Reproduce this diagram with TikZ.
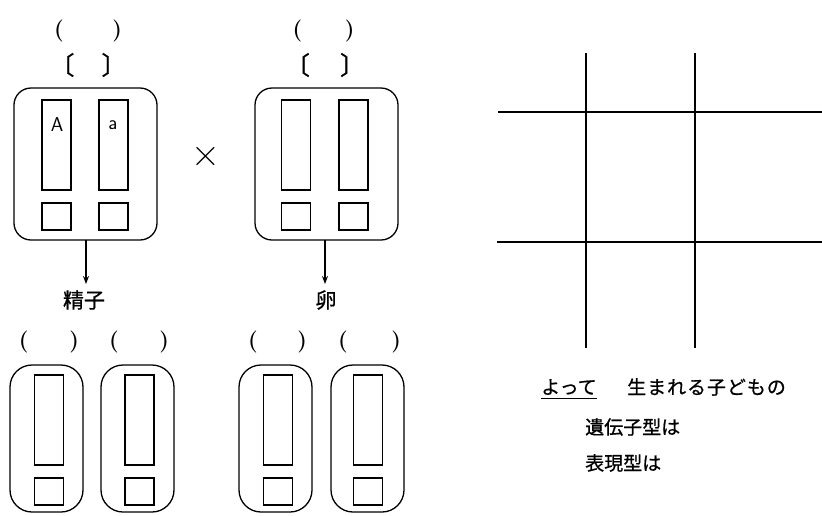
\documentclass[tikz,border=0pt]{standalone}
\usepackage{fontspec}
\newfontfamily\jp[FakeBold=0.8]{Noto Sans CJK JP}
\usetikzlibrary{arrows.meta}
\begin{document}
\begin{tikzpicture}[x=1pt,y=-1pt,
  ln/.style={line width=1.3pt},
  parent/.style={ln,draw,rounded corners=17pt,minimum width=143pt,minimum height=152pt,inner sep=0pt,outer sep=0pt},
  gamete/.style={ln,draw,rounded corners=22pt,minimum width=73pt,minimum height=147pt,inner sep=0pt,outer sep=0pt},
  chrom/.style={ln,draw,minimum width=29pt,minimum height=90pt,inner sep=0pt,outer sep=0pt},
  gene/.style={ln,draw,minimum width=29pt,minimum height=27pt,inner sep=0pt,outer sep=0pt},
  paren/.style={inner sep=0pt,font=\bfseries\fontsize{22}{22}\selectfont},
  brk/.style={inner sep=0pt,font=\jp\fontsize{25}{25}\selectfont},
  jtxt/.style={inner sep=0pt,font=\jp\fontsize{19}{19}\selectfont},
  allele/.style={inner sep=0pt,font=\sffamily\fontsize{20}{20}\selectfont},
  arr/.style={ln,-{Stealth[length=8pt,width=6pt]}},
  grid/.style={line width=1.2pt}
]
\useasboundingbox (0,0) rectangle (822,515);
% ---- parents ----
\node[parent] (p1) at (85.5,164) {};
\node[chrom] (p1c1) at (56.5,145) {};
\node[chrom] (p1c2) at (113.5,145) {};
\node[gene] (p1g1) at (56.5,216.5) {};
\node[gene] (p1g2) at (113.5,216.5) {};
\node[allele] (A) at (57,125) {A};
\node[allele] (a) at (113,125) {a};
\node[paren] (p1par) at (88,31) {\makebox[68pt]{(\hfill)}};
\node[brk] (p1brk) at (88,65) {\makebox[77pt]{〔\hfill〕}};

\node[parent] (p2) at (326.5,164) {};
\node[chrom] (p2c1) at (296,145) {};
\node[chrom] (p2c2) at (353.5,145) {};
\node[gene] (p2g1) at (296,216.5) {};
\node[gene] (p2g2) at (353.5,216.5) {};
\node[paren] (p2par) at (323.5,31) {\makebox[62pt]{(\hfill)}};
\node[brk] (p2brk) at (325,65) {\makebox[80pt]{〔\hfill〕}};

\node[inner sep=0pt,font=\fontsize{40}{40}\selectfont] (cross) at (206,157) {×};

% ---- arrows ----
\coordinate (e1) at (86,284);
\coordinate (e2) at (325,284);
\draw[arr] (p1.south -| e1) -- (e1);
\draw[arr] (p2.south -| e2) -- (e2);
\node[jtxt,font=\jp\fontsize{21}{21}\selectfont] (sperm) at (84,300) {精子};
\node[jtxt,font=\jp\fontsize{21}{21}\selectfont] (egg) at (326,300) {卵};

% ---- gametes ----
\foreach \n/\cx/\ix/\px/\pw in {1/46.5/49/49/60, 2/137.5/139.5/139/60, 3/275.5/278/277.5/59, 4/367.5/368/369.5/63}{
  \node[gamete] (g\n) at (\cx,438.5) {};
  \node[chrom,minimum height=90pt] (g\n c) at (\ix,420) {};
  \node[gene] (g\n g) at (\ix,491.5) {};
  \node[paren] (g\n p) at (\px,342) {\makebox[\pw pt]{(\hfill)}};
}

% ---- Punnett grid ----
\coordinate (v1t) at (586,53);  \coordinate (v1b) at (586,348);
\coordinate (v2t) at (695,53);  \coordinate (v2b) at (695,348);
\coordinate (h1l) at (498,112); \coordinate (h1r) at (822,112);
\coordinate (h2l) at (497,242); \coordinate (h2r) at (822,242);
\draw[grid] (v1t) -- (v1b);
\draw[grid] (v2t) -- (v2b);
\draw[grid] (h1l) -- (h1r);
\draw[grid] (h2l) -- (h2r);

% ---- text ----
\node[jtxt,anchor=west] (yotte) at (541,387) {よって};
\draw[line width=1.2pt] ([yshift=-3pt]yotte.south west) -- ([yshift=-3pt]yotte.south east);
\node[jtxt,anchor=west] (umare) at (627,387) {\addfontfeature{LetterSpace=5}生まれる子どもの};
\node[jtxt,anchor=west] (idenshi) at (585,427) {遺伝子型は};
\node[jtxt,anchor=west] (hyogen) at (585,463) {表現型は};
\end{tikzpicture}
\end{document}
